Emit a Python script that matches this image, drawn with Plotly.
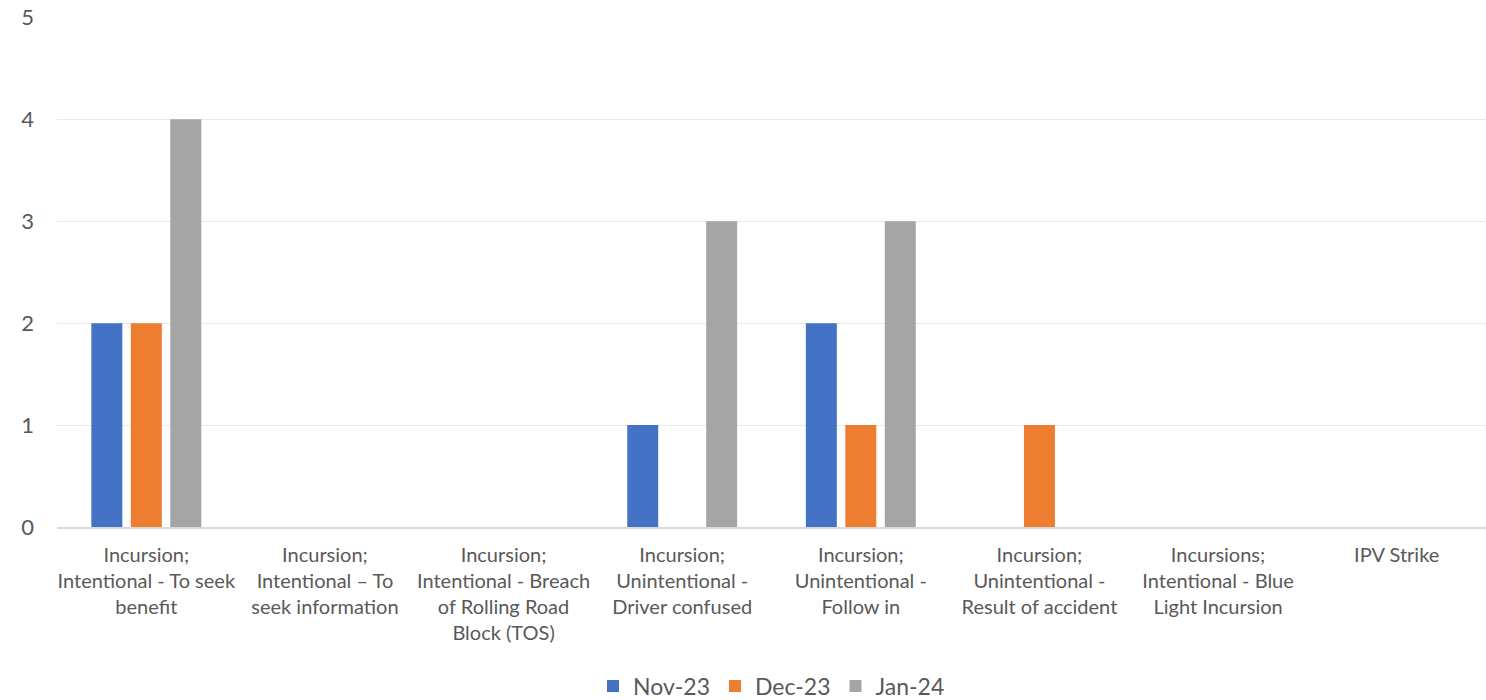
import plotly.graph_objects as go

categories = [
    "Incursion;<br>Intentional - To seek<br>benefit",
    "Incursion;<br>Intentional – To<br>seek information",
    "Incursion;<br>Intentional - Breach<br>of Rolling Road<br>Block (TOS)",
    "Incursion;<br>Unintentional -<br>Driver confused",
    "Incursion;<br>Unintentional -<br>Follow in",
    "Incursion;<br>Unintentional -<br>Result of accident",
    "Incursions;<br>Intentional - Blue<br>Light Incursion",
    "IPV Strike",
]
nov23 = [2, 0, 0, 1, 2, 0, 0, 0]
dec23 = [2, 0, 0, 0, 1, 1, 0, 0]
jan24 = [4, 0, 0, 3, 3, 0, 0, 0]
series_names = ["Nov-23", "Dec-23", "Jan-24"]
colors = ["#4472C4", "#ED7D31", "#A5A5A5"]

fig = go.Figure()
for name, vals, c in zip(series_names, [nov23, dec23, jan24], colors):
    fig.add_trace(go.Bar(x=categories, y=vals, name=name, marker_color=c,
                         marker_line_width=0))

font_fam = "Lato, 'Open Sans', sans-serif"
fig.update_layout(
    width=1486, height=700,
    margin=dict(l=57, r=0, t=17, b=173, autoexpand=False),
    paper_bgcolor="white", plot_bgcolor="white",
    barmode="group", bargap=0.337, bargroupgap=0.215,
    font=dict(family=font_fam, color="#595959"),
    legend=dict(orientation="h", x=0.5, xanchor="center", y=-0.312, yanchor="middle",
                font=dict(size=23, color="#595959"), traceorder="normal",
                itemwidth=30),
    yaxis=dict(range=[0, 5.004], dtick=1, showgrid=True, gridcolor="#E9E9E9",
               zeroline=False, tickfont=dict(size=22, color="#595959"),
               ticks="", showline=False, ticklabelstandoff=22, automargin=False),
    xaxis=dict(showline=True, linecolor="#D9D9D9", linewidth=1.5,
               tickfont=dict(size=20, color="#595959"), ticks="",
               tickangle=0, automargin=False, ticklabelstandoff=9),
    showlegend=True,
)
fig.write_html("out.html", config={"displayModeBar": False},
               post_script="document.body.style.margin='0';document.body.style.overflow='hidden';")
